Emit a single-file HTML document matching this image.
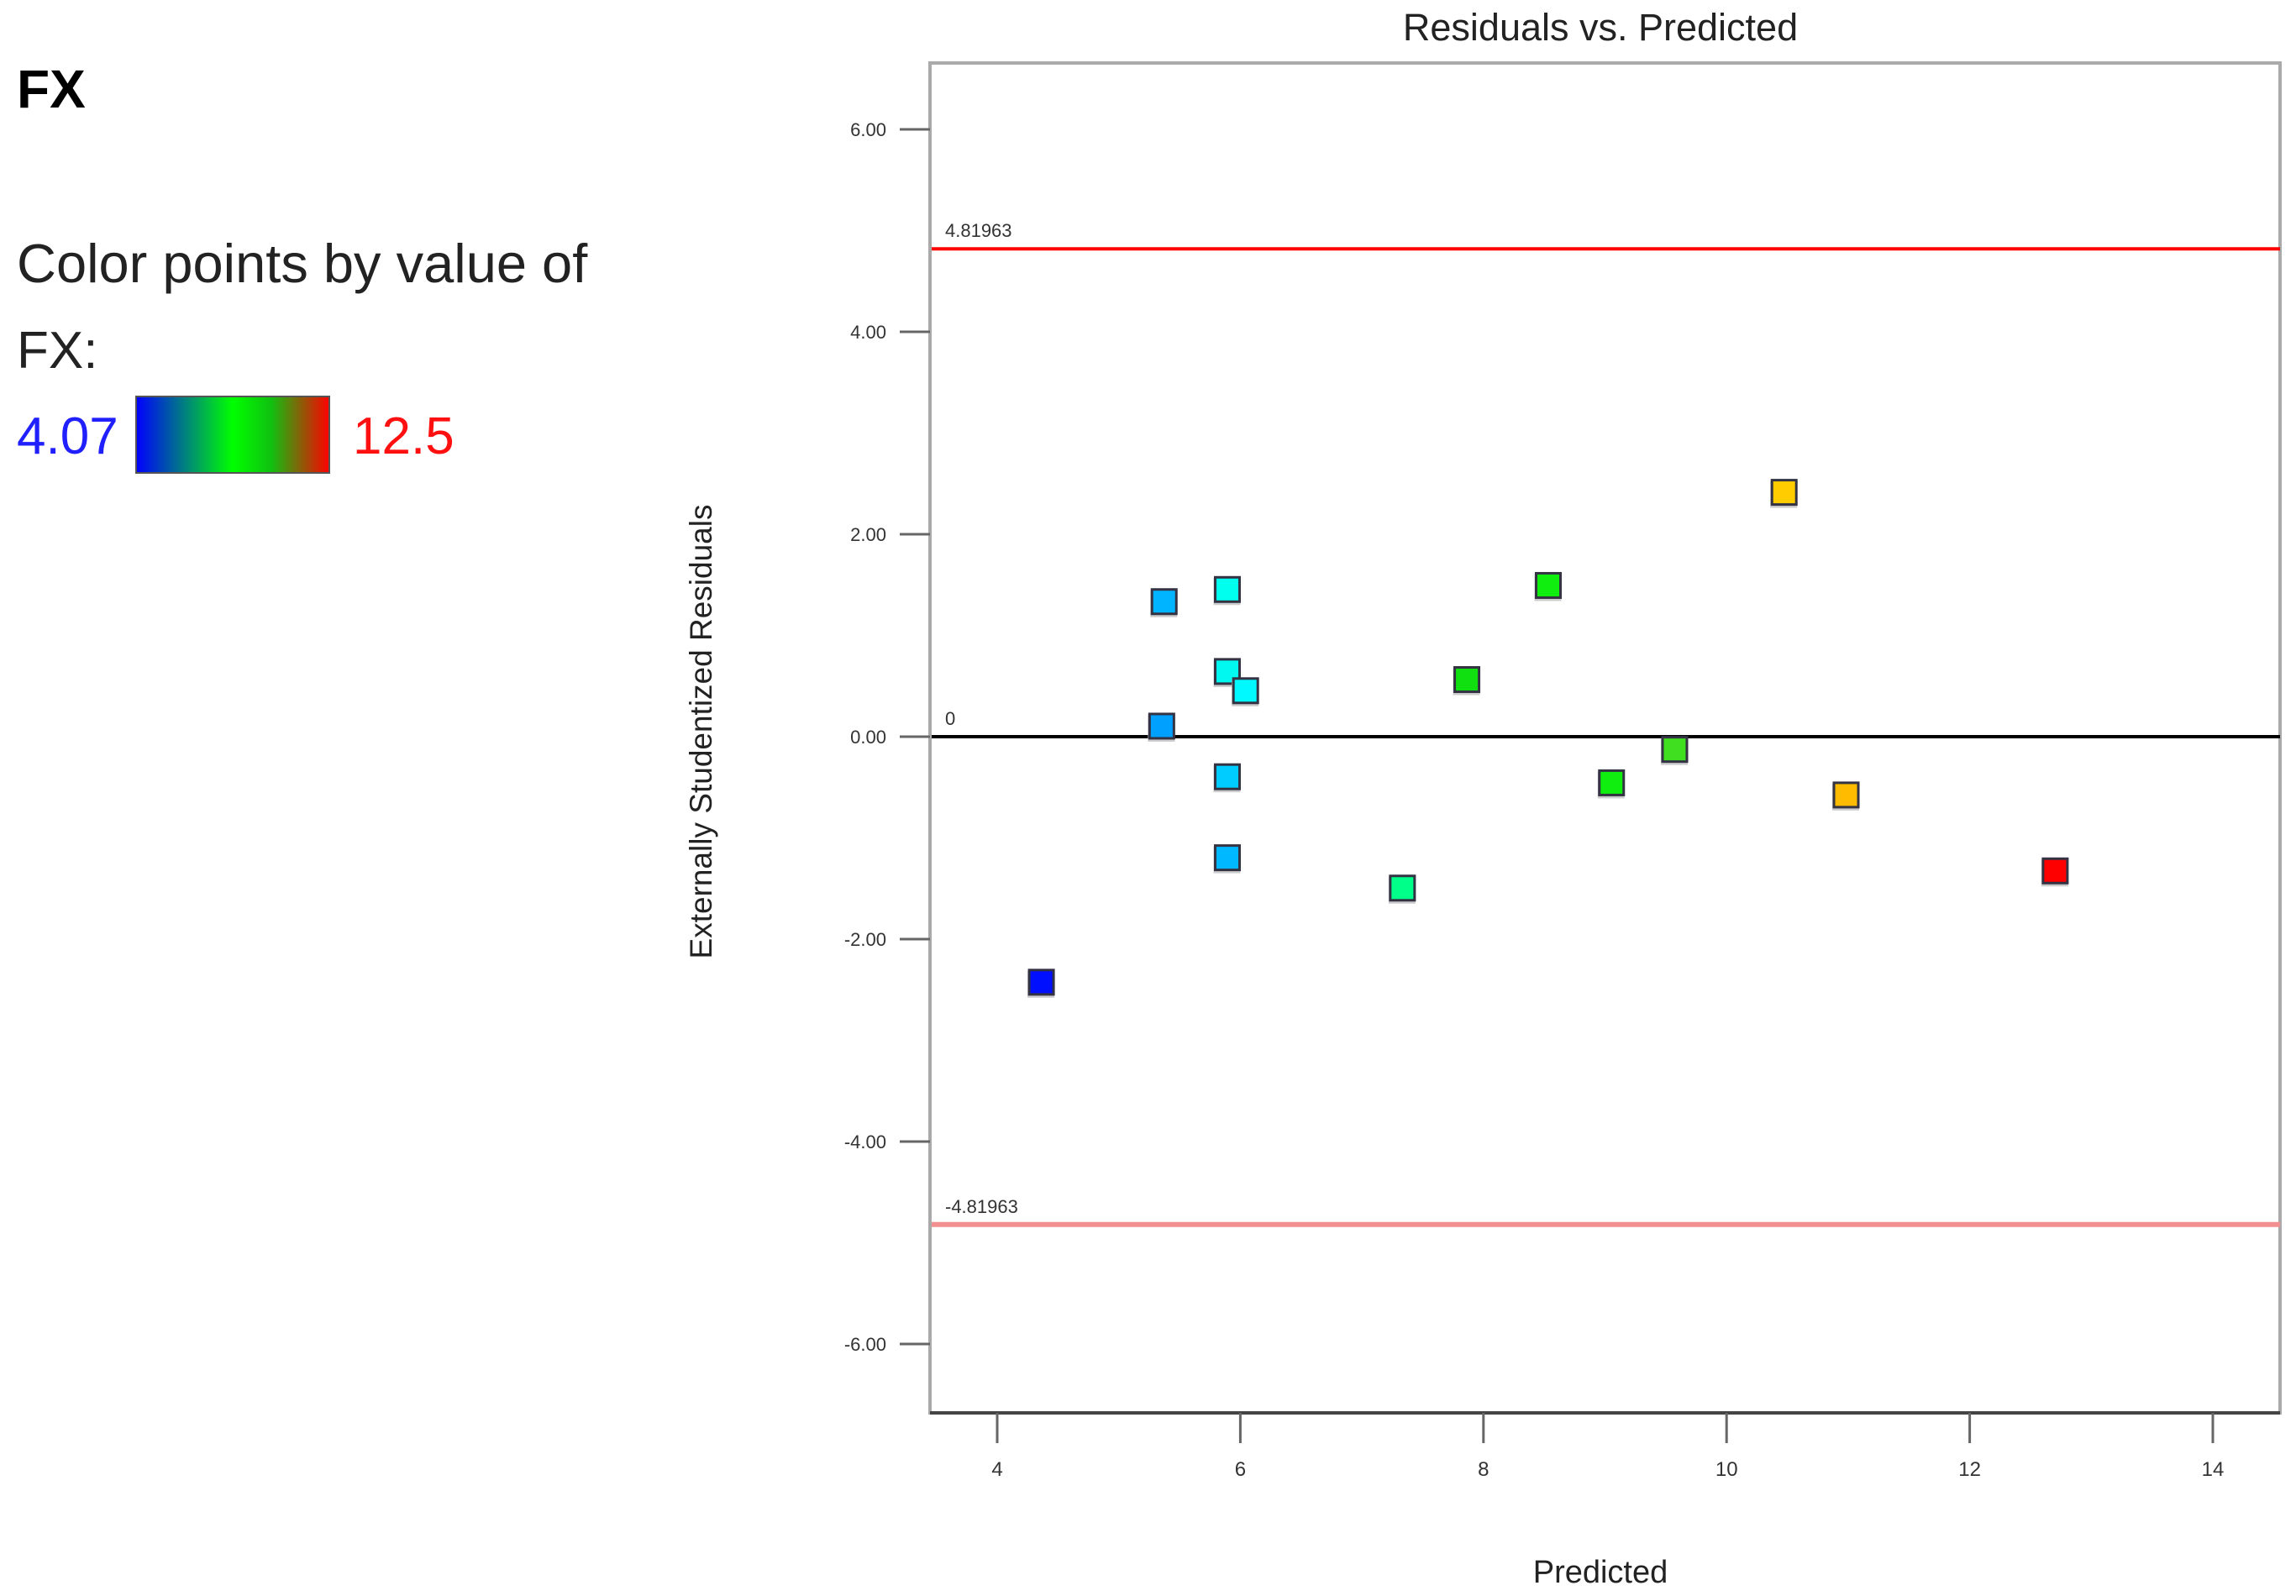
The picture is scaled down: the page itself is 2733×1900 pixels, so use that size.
<!DOCTYPE html>
<html><head><meta charset="utf-8"><style>
html,body{margin:0;padding:0;background:#fff;}
svg{display:block;font-family:"Liberation Sans",sans-serif;}
</style></head><body>
<svg id="chart" width="2733" height="1900" viewBox="0 0 2733 1900">
  <defs>
    <linearGradient id="cb" x1="0" x2="1" y1="0" y2="0">
      <stop offset="0" stop-color="#0000ff"/>
      <stop offset="0.5" stop-color="#00ff00"/>
      <stop offset="0.7" stop-color="#10c010"/>
      <stop offset="1" stop-color="#ff0000"/>
    </linearGradient>
  </defs>
  <g>
    <text x="20" y="128" font-size="64" font-weight="bold">FX</text>
    <text x="20" y="336" font-size="65" fill="#222">Color points by value of</text>
    <text x="20" y="438" font-size="62" fill="#222">FX:</text>
    <text x="20" y="540" font-size="62" fill="#2020ff">4.07</text>
    <rect x="162" y="472" width="230" height="91" fill="url(#cb)" stroke="#555" stroke-width="2"/>
    <text x="420" y="540" font-size="62" fill="#ff1010">12.5</text>
  </g>
  <text x="1905" y="48" font-size="45" text-anchor="middle" fill="#222">Residuals vs. Predicted</text>
  <text transform="translate(847,871) rotate(-90)" font-size="37" text-anchor="middle" fill="#222">Externally Studentized Residuals</text>
  <text x="1905" y="1884" font-size="38" text-anchor="middle" fill="#222">Predicted</text>
  <g id="plot"></g>
</svg>
<script>
const xTicks = [4, 6, 8, 10, 12, 14];
const yTicks = [6, 4, 2, 0, -2, -4, -6];
const yTickLabels = ["6.00", "4.00", "2.00", "0.00", "-2.00", "-4.00", "-6.00"];
const limitUpper = 4.81963;
const limitLower = -4.81963;
const predicted = [4.36, 5.37, 5.35, 5.89, 5.89, 6.04, 5.89, 5.89, 7.33, 7.86, 8.53, 9.05, 9.57, 10.47, 10.98, 12.70];
const residuals = [-2.43, 1.33, 0.10, 1.45, 0.64, 0.45, -0.40, -1.20, -1.50, 0.56, 1.49, -0.46, -0.13, 2.41, -0.58, -1.33];
const pointColors = ["#0010ff", "#00b4ff", "#00a0ff", "#00ffee", "#00f8f0", "#00f8ff", "#00ccff", "#00b8ff", "#00ff88", "#10e010", "#10ee10", "#10ee10", "#40e020", "#ffcc00", "#ffbb00", "#ff0000"];

const L = 1107, T = 75, R = 2714, B = 1682;
const sx = v => 1187 + (v - 4) * 144.7;
const sy = v => 877 - v * 120.5;
const NS = "http://www.w3.org/2000/svg";
const plot = document.getElementById("plot");
function mk(tag, attrs) {
  const e = document.createElementNS(NS, tag);
  for (const k in attrs) e.setAttribute(k, attrs[k]);
  plot.appendChild(e);
  return e;
}
let e;
e = mk("rect", {x: L, y: T, width: R - L, height: B - T, fill: "#fff", stroke: "#aaa", "stroke-width": 4});


e = mk("line", {x1: L, x2: R, y1: B, y2: B, stroke: "#444", "stroke-width": 4});



yTicks.forEach((v, i) => {
  const y = sy(v);
  const t = mk("line", {x1: L - 36, x2: L, y1: y, y2: y, stroke: "#666", "stroke-width": 3});
  
  
  const lb = mk("text", {x: L - 52, y: y + 8, "font-size": 22, "text-anchor": "end", fill: "#333"});
  lb.textContent = yTickLabels[i];
  
  
});
xTicks.forEach(v => {
  const x = sx(v);
  const t = mk("line", {x1: x, x2: x, y1: B, y2: B + 36, stroke: "#666", "stroke-width": 3});
  
  
  const lb = mk("text", {x: x, y: B + 75, "font-size": 24, "text-anchor": "middle", fill: "#333"});
  lb.textContent = String(v);
  
  
});

e = mk("line", {x1: L + 2, x2: R, y1: sy(limitUpper), y2: sy(limitUpper), stroke: "#ff0000", "stroke-width": 4});


e = mk("text", {x: L + 18, y: sy(limitUpper) - 14, "font-size": 22, fill: "#333"});
e.textContent = limitUpper.toString();


e = mk("line", {x1: L + 2, x2: R, y1: sy(limitLower), y2: sy(limitLower), stroke: "#f29090", "stroke-width": 6});


e = mk("text", {x: L + 18, y: sy(limitLower) - 14, "font-size": 22, fill: "#333"});
e.textContent = limitLower.toString();


e = mk("line", {x1: L + 2, x2: R, y1: sy(0), y2: sy(0), stroke: "#000", "stroke-width": 4});


e = mk("text", {x: L + 18, y: sy(0) - 14, "font-size": 22, fill: "#333"});
e.textContent = "0";



predicted.forEach((p, i) => {
  const cx = sx(p), cy = sy(residuals[i]);
  const sh = mk("rect", {x: cx - 16, y: cy - 14, width: 32, height: 32, fill: "#ccc"});
  
  
  const r = mk("rect", {x: cx - 14, y: cy - 15, width: 29, height: 29, fill: pointColors[i], stroke: "#334", "stroke-width": 3});
  
  
});
</script>
</body></html>
